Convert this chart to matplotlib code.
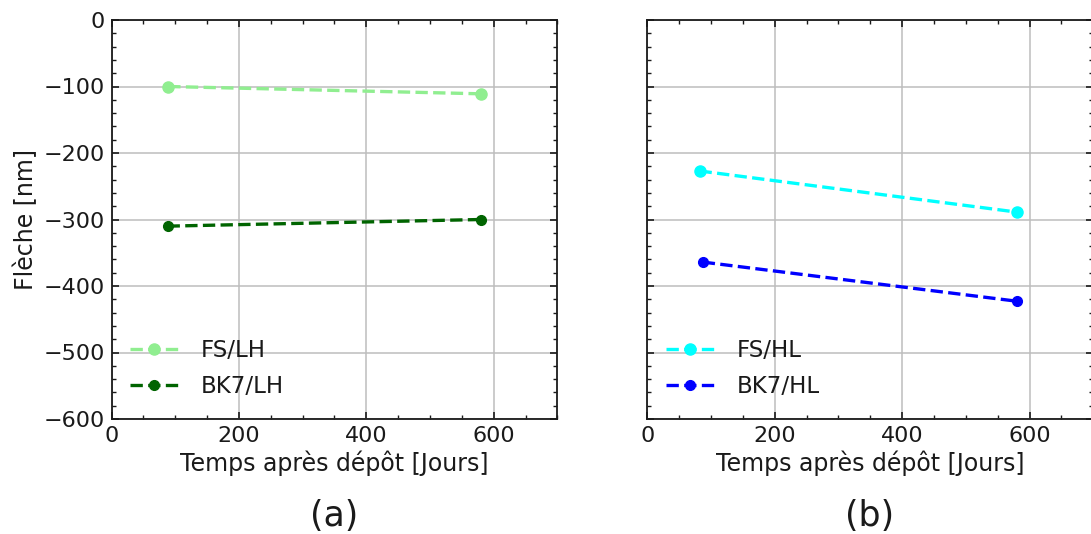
import matplotlib
matplotlib.use("Agg")
import matplotlib.pyplot as plt
from matplotlib.ticker import MultipleLocator

# Data
x_fs_lh = [89, 580]
y_fs_lh = [-100, -111]
x_bk7_lh = [88, 580]
y_bk7_lh = [-310, -300]

x_fs_hl = [82, 581]
y_fs_hl = [-227, -289]
x_bk7_hl = [87, 581]
y_bk7_hl = [-364, -423]

W, H = 1091, 534
fig = plt.figure(figsize=(W / 100, H / 100), dpi=100)

def px_axes(l, t, r, b):
    return fig.add_axes([l / W, 1 - b / H, (r - l) / W, (b - t) / H])

ax1 = px_axes(111.5, 20, 557.5, 419)
ax2 = px_axes(647.3, 20, 1093.3, 419)

def style(ax, show_ylabels=True):
    ax.set_xlim(0, 700)
    ax.set_ylim(-600, 0)
    ax.xaxis.set_major_locator(MultipleLocator(200))
    ax.xaxis.set_minor_locator(MultipleLocator(50))
    ax.yaxis.set_major_locator(MultipleLocator(100))
    ax.yaxis.set_minor_locator(MultipleLocator(20))
    ax.tick_params(which='both', direction='in', top=True, right=True, labelsize=16, colors='#1a1a1a')
    ax.tick_params(which='major', length=5, width=1.2, pad=5)
    ax.tick_params(which='minor', length=3, width=1)
    ax.grid(True, which='major', color='#bdbdbd', linewidth=1.1)
    ax.set_axisbelow(True)
    for s in ax.spines.values():
        s.set_linewidth(1.3)
        s.set_color('#1a1a1a')
    ax.set_xlabel('Temps après dépôt [Jours]', fontsize=17, color='#1a1a1a', labelpad=3)
    if not show_ylabels:
        ax.tick_params(labelleft=False)

style(ax1)
style(ax2, show_ylabels=False)
ax1.set_ylabel('Flèche [nm]', fontsize=17, color='#1a1a1a', labelpad=4)

ax1.plot(x_fs_lh, y_fs_lh, '--o', color='lightgreen', lw=2.4, ms=8, label='FS/LH')
ax1.plot(x_bk7_lh, y_bk7_lh, '--o', color='darkgreen', lw=2.4, ms=7, label='BK7/LH')
ax2.plot(x_fs_hl, y_fs_hl, '--o', color='cyan', lw=2.4, ms=8, label='FS/HL')
ax2.plot(x_bk7_hl, y_bk7_hl, '--o', color='blue', lw=2.4, ms=7, label='BK7/HL')

for ax in (ax1, ax2):
    leg = ax.legend(loc='lower left', frameon=False, fontsize=16.5,
                    labelspacing=0.6, handletextpad=1.0, handlelength=2.1,
                    bbox_to_anchor=(-0.005, 0.0))
    for t in leg.get_texts():
        t.set_color('#1a1a1a')

fig.text(334.5 / W, 1 - 516 / H, '(a)', ha='center', va='center', fontsize=25, color='#1a1a1a')
fig.text(870 / W, 1 - 516 / H, '(b)', ha='center', va='center', fontsize=25, color='#1a1a1a')

fig.savefig('out.png', dpi=100)
